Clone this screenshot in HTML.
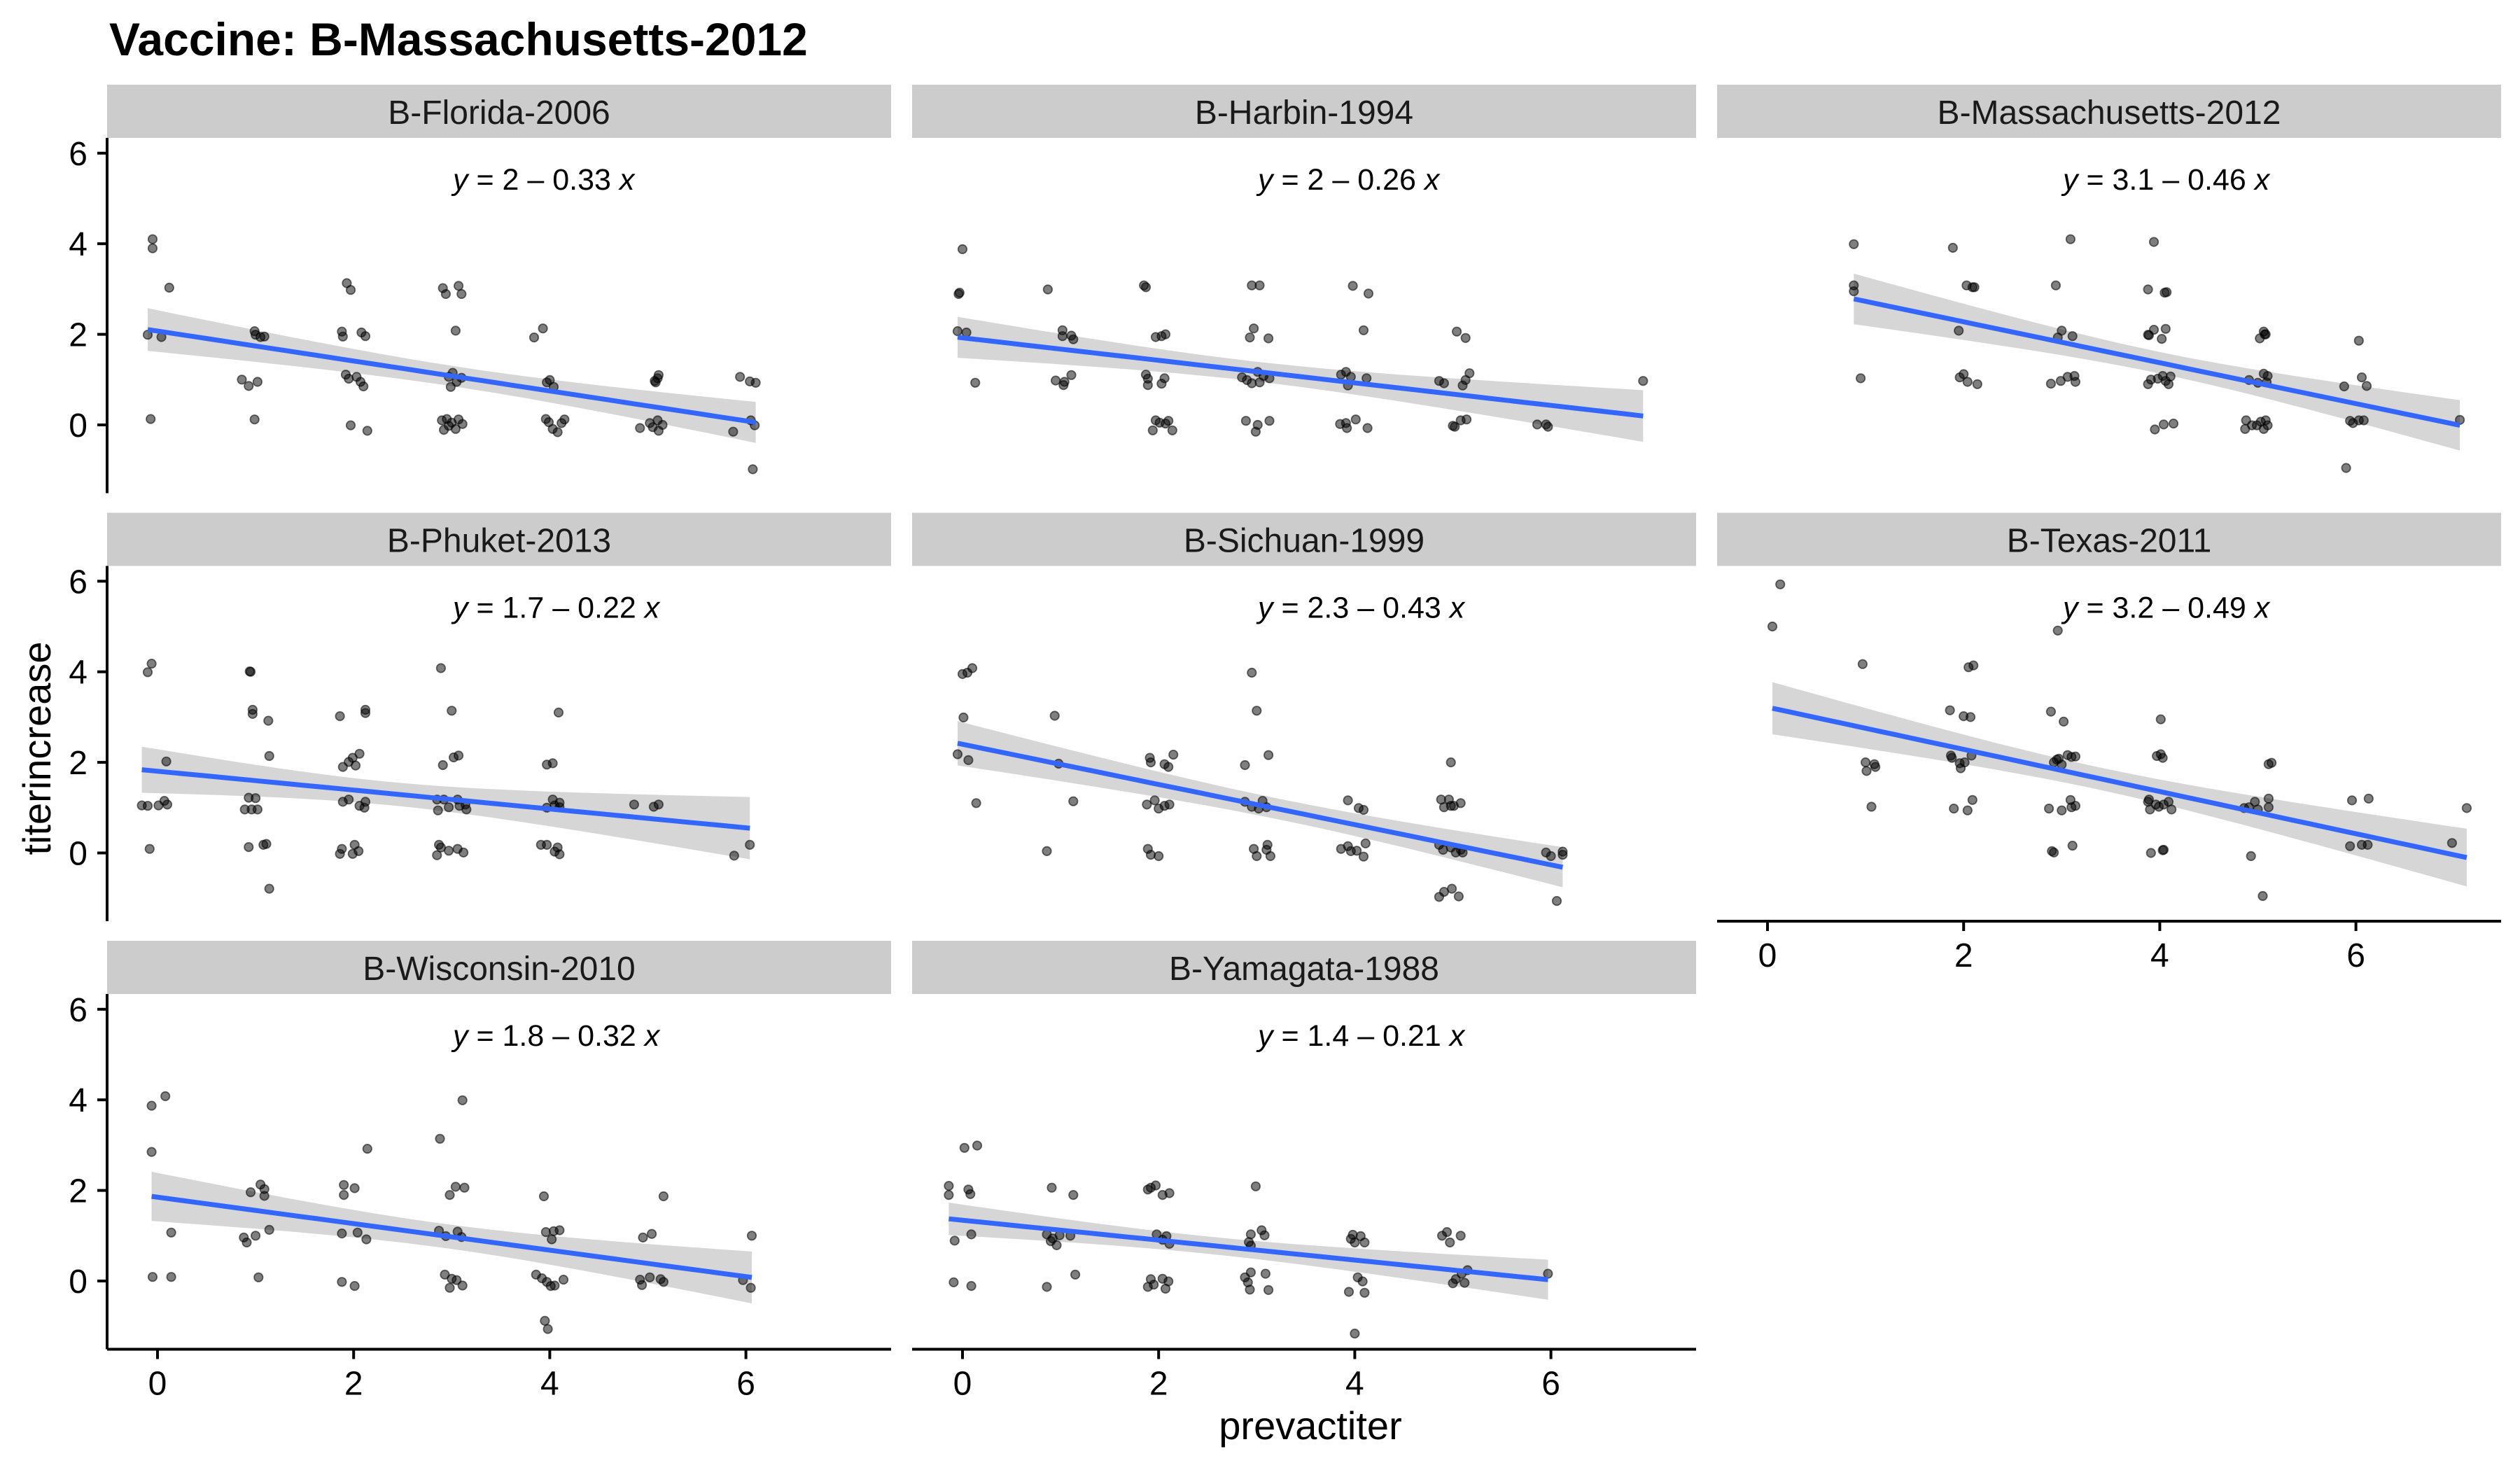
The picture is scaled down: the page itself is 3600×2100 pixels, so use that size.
<!DOCTYPE html>
<html><head><meta charset="utf-8"><style>
html,body{margin:0;padding:0;background:#fff}
svg{display:block}
text{font-family:"Liberation Sans",Arial,sans-serif}
</style></head><body>
<svg id="chart" xmlns="http://www.w3.org/2000/svg" width="3600" height="2100" viewBox="0 0 3600 2100">
<rect x="0" y="0" width="3600" height="2100" fill="#fff"/>
<text x="156" y="79" font-size="66" font-weight="bold" fill="#000">Vaccine: B-Massachusetts-2012</text>
<text transform="translate(72,1069) rotate(-90)" text-anchor="middle" font-size="56" fill="#000">titerincrease</text>
<text x="1872" y="2056" text-anchor="middle" font-size="56" fill="#000">prevactiter</text>
<g id="panels"></g>
</svg>
<script>
const panelNames = ["B-Florida-2006","B-Harbin-1994","B-Massachusetts-2012","B-Phuket-2013","B-Sichuan-1999","B-Texas-2011","B-Wisconsin-2010","B-Yamagata-1988"];
const equations = ["2 \u2013 0.33","2 \u2013 0.26","3.1 \u2013 0.46","1.7 \u2013 0.22","2.3 \u2013 0.43","3.2 \u2013 0.49","1.8 \u2013 0.32","1.4 \u2013 0.21"];
const xTicks = [0,2,4,6];
const yTicks = [0,2,4,6];
const floridaX = [-0.05,-0.05,0.12,-0.1,0.04,-0.07,0.99,1,1.09,1.05,0.86,0.93,1.02,0.99,1.93,1.97,1.88,1.89,2.08,2.12,1.92,1.95,2.03,2.07,2.1,1.97,2.14,2.91,2.94,3.07,3.1,3.04,3.01,2.97,2.99,3.05,3.1,2.9,2.95,2.97,2.92,3.0,3.04,3.07,3.11,3.84,3.93,3.97,4.0,4.04,3.96,3.99,4.03,4.08,4.12,4.15,5.07,5.1,5.11,5.08,4.92,5.02,5.05,5.11,5.1,5.15,5.94,6.04,6.1,5.87,6.05,6.09,6.07];
const floridaY = [4.1,3.9,3.03,1.99,1.94,0.13,2.07,1.99,1.95,1.94,1.0,0.86,0.95,0.12,3.13,2.98,2.06,1.95,2.04,1.96,1.11,1.02,1.06,0.95,0.85,-0.01,-0.13,3.02,2.89,3.07,2.89,2.08,1.15,1.06,0.84,0.95,1.04,0.1,0.13,-0.02,-0.11,0.05,-0.09,0.12,0.02,1.93,2.13,0.94,0.99,0.84,0.13,0.06,-0.09,-0.16,0.04,0.12,0.97,1.03,1.1,0.94,-0.07,0.04,-0.05,-0.13,0.1,0.0,1.06,0.96,0.93,-0.15,0.1,-0.01,-0.98];
const harbinX = [0,-0.04,-0.03,-0.05,0.04,0.13,0.87,1.02,1.02,1.11,1.13,0.95,1.03,1.04,1.11,1.85,1.87,1.97,2.03,2.07,1.87,1.89,1.89,2.03,2.06,1.97,2.01,1.94,2.07,2.14,2.1,2.95,3.03,2.97,2.93,3.12,2.85,2.95,3.03,3.07,3.13,3.01,2.9,2.89,3.01,3.13,2.99,3.98,4.14,4.09,3.86,3.91,3.96,3.93,4.12,3.85,3.91,3.92,4.01,4.13,5.04,5.13,4.86,4.91,5.1,5.13,5.17,5.0,5.02,5.08,5.14,5.86,5.95,5.97,6.94];
const harbinY = [3.88,2.89,2.92,2.07,2.04,0.93,2.99,2.09,1.96,1.97,1.89,0.98,0.88,0.95,1.1,3.08,3.04,1.94,1.96,2.0,1.11,1.02,0.88,0.91,1.03,0.1,0.05,-0.12,0.03,-0.12,0.09,3.08,3.08,2.13,1.93,1.91,1.05,0.92,0.94,1.08,1.03,1.17,0.99,0.09,0.0,0.09,-0.15,3.07,2.9,2.09,1.11,1.17,1.06,0.87,1.03,0.02,0.04,-0.07,0.12,-0.07,2.06,1.92,0.97,0.92,0.87,0.99,1.14,-0.02,-0.04,0.1,0.12,0.01,0.01,-0.04,0.97];
const massX = [0.88,0.88,0.88,0.95,1.89,2.03,2.09,2.11,1.95,1.96,2.0,2.04,2.14,3.09,2.94,3.0,2.96,3.11,2.89,2.99,3.06,3.13,3.14,3.94,3.88,4.05,4.07,3.88,3.89,3.94,4.02,4.06,3.88,3.91,3.98,4.06,4.09,4.11,4.03,3.95,4.04,4.14,5.06,5.07,5.02,5.08,4.91,5.0,5.06,5.09,5.1,4.87,4.88,4.94,4.99,5.06,5.08,5.1,5.03,6.03,6.06,6.11,5.88,5.94,5.97,6.03,6.08,5.9,7.06];
const massY = [3.99,3.08,2.95,1.03,3.91,3.08,3.04,3.04,2.08,1.05,1.12,0.95,0.9,4.1,3.08,2.08,1.93,1.96,0.91,0.97,1.06,1.08,0.95,4.04,2.99,2.92,2.93,1.99,1.98,2.1,1.9,2.12,0.9,1.0,1.02,0.97,0.9,1.07,1.08,-0.1,0.01,0.03,2.06,2.0,1.91,2.0,0.99,0.93,1.13,0.94,1.08,-0.09,0.1,-0.01,-0.01,-0.09,0.1,-0.01,0.07,1.86,1.05,0.86,0.85,0.09,0.04,0.1,0.1,-0.95,0.11];
const phuketX = [-0.1,-0.06,0.09,-0.16,-0.1,0.01,0.07,0.1,-0.08,0.94,0.95,0.97,0.97,1.13,1.14,0.93,1.0,0.89,0.96,1.02,0.93,1.08,1.11,1.14,1.86,2.12,2.12,1.89,1.95,1.99,2.06,2.02,1.89,1.95,2.06,2.11,2.12,1.86,1.88,2.01,1.99,2.05,2.89,3.0,2.91,3.02,3.07,2.85,2.92,2.86,2.97,3.06,3.08,3.14,3.15,2.87,2.89,2.85,2.97,3.06,3.12,4.09,3.97,4.03,3.97,4.03,4.05,4.1,4.1,3.91,3.97,4.08,4.05,4.1,4.86,5.06,5.11,5.88,6.04];
const phuketY = [3.99,4.18,2.02,1.05,1.04,1.05,1.15,1.07,0.09,4.01,4.0,3.16,3.07,2.92,2.14,1.22,1.21,0.96,0.96,0.96,0.13,0.18,0.2,-0.79,3.02,3.16,3.09,1.9,2.01,2.1,2.19,1.93,1.13,1.18,1.04,1.0,1.13,-0.02,0.09,0.18,-0.02,0.04,4.08,3.14,1.94,2.11,2.15,1.18,1.18,0.94,1.01,1.18,1.04,1.07,0.96,0.18,0.12,-0.05,0.05,0.09,0.01,3.1,1.95,1.98,1.0,1.18,1.05,1.11,1.01,0.18,0.18,0.12,0.03,-0.03,1.07,1.02,1.07,-0.06,0.18];
const sichuanX = [0,0.05,0.1,0.01,-0.05,0.06,0.14,0.94,0.98,1.13,0.86,1.91,1.92,2.06,2.1,2.15,1.88,1.96,2.0,2.06,2.11,1.89,1.92,2.0,2.95,3.0,2.88,3.12,2.88,2.95,3.02,3.06,3.1,2.97,3.0,3.11,3.1,3.14,3.93,4.04,4.09,3.86,3.93,3.96,4.02,4.09,4.11,4.98,4.88,4.96,4.91,4.98,5.01,5.08,4.86,4.9,4.98,5.03,5.08,5.1,4.86,4.91,4.99,5.06,5.95,6.0,6.12,6.12,6.06];
const sichuanY = [3.95,3.98,4.08,2.99,2.18,2.05,1.1,3.03,1.97,1.14,0.04,2.1,2.0,1.96,1.9,2.17,1.07,1.16,0.98,1.04,1.07,0.09,-0.04,-0.07,3.98,3.14,1.94,2.16,1.13,1.02,0.98,1.15,1.01,0.09,-0.07,0.18,0.07,-0.07,1.16,0.99,0.95,0.09,0.15,0.04,0.05,-0.08,0.21,2.0,1.18,1.18,1.01,1.04,1.04,1.1,0.18,0.07,0.12,0.01,0.07,0.01,-0.97,-0.86,-0.79,-0.96,0.01,-0.07,0.03,-0.04,-1.06];
const texasX = [0.13,0.05,0.97,1.0,1.01,1.1,1.09,1.06,1.86,2.0,2.07,2.05,2.1,1.87,1.88,1.96,1.97,2.01,2.08,1.9,2.04,2.09,2.96,2.89,3.02,2.92,2.97,3.0,3.06,3.1,3.14,2.95,2.87,3.0,3.09,3.1,3.14,2.9,2.92,3.11,4.01,3.97,4.01,4.03,3.88,3.9,3.96,3.99,4.04,4.09,4.12,3.89,3.91,4.03,4.04,5.11,5.14,4.86,4.91,4.97,5.0,5.11,5.11,4.93,5.05,5.96,6.13,5.94,6.06,6.12,6.98,7.13];
const texasY = [5.93,5.0,4.17,2.0,1.81,1.9,1.96,1.02,3.15,3.02,3.0,4.1,4.14,2.15,2.1,1.98,1.87,2.0,2.15,0.98,0.94,1.17,4.91,3.12,2.9,2.0,2.08,1.95,2.16,2.12,2.13,2.06,0.98,0.94,1.17,1.01,1.04,0.04,0.01,0.16,2.95,2.14,2.18,2.1,1.13,0.96,1.07,1.02,1.07,1.13,0.96,1.18,0.0,0.06,0.07,1.96,1.99,0.99,1.01,1.13,0.96,1.2,1.01,-0.07,-0.95,1.16,1.2,0.15,0.18,0.18,0.22,0.99];
const wisconsinX = [-0.06,0.08,-0.06,0.14,-0.05,0.14,0.95,1.05,1.09,1.09,0.88,0.91,1.0,1.14,1.03,1.9,2.01,1.9,2.14,1.88,2.04,2.13,1.88,2.01,2.88,3.11,3.04,3.13,2.98,2.87,2.94,3.06,3.1,2.93,2.98,3.05,3.11,3.0,3.94,3.96,4.04,4.1,4.02,3.86,3.97,4.05,4.14,3.92,4.01,3.95,3.98,5.16,4.95,5.04,4.92,4.94,5.02,5.13,5.16,6.06,5.97,6.05];
const wisconsinY = [3.87,4.08,2.85,1.07,0.09,0.09,1.96,2.13,2.03,1.88,0.96,0.85,1.0,1.13,0.08,2.12,2.05,1.9,2.92,1.05,1.07,0.92,-0.02,-0.11,3.14,3.99,2.08,2.06,1.9,1.11,0.99,1.09,0.97,0.14,-0.15,0.02,-0.1,0.05,1.87,1.08,1.1,1.12,0.92,0.14,-0.02,-0.1,0.03,0.06,-0.11,-0.88,-1.06,1.87,0.96,1.04,0.03,-0.09,0.08,0.04,-0.02,1.0,0.02,-0.15];
const yamagataX = [-0.14,-0.14,0.06,0.08,0.02,0.15,-0.08,0.09,-0.09,0.09,0.91,1.13,0.86,0.92,0.96,0.99,0.9,1.1,1.15,0.86,1.92,1.97,2.04,2.11,1.89,1.98,2.04,2.11,2.08,1.89,1.95,2.04,2.1,2.07,1.92,2.99,2.94,3.05,3.08,2.92,2.94,2.88,2.94,3.09,2.91,2.93,3.12,3.96,3.98,4.06,4.1,4.0,4.03,4.08,3.94,4.1,4.0,4.89,4.97,4.94,5.08,5.03,5.09,5.15,5.12,5.0,5.97];
const yamagataY = [2.1,1.9,2.02,1.92,2.94,2.99,0.89,1.03,-0.03,-0.11,2.06,1.9,1.03,0.94,0.79,1.01,0.88,1.0,0.14,-0.13,2.06,2.11,1.9,1.94,2.02,1.03,0.91,0.82,0.99,-0.13,-0.08,0.05,-0.01,-0.17,0.04,2.09,1.03,1.12,1.01,0.86,0.78,0.08,0.19,0.16,-0.03,-0.19,-0.2,0.93,1.02,0.99,0.85,0.85,0.08,-0.01,-0.24,-0.26,-1.16,1.0,0.85,1.08,1.0,0.04,0.16,0.24,-0.04,-0.05,0.16];
const seriesX = [floridaX,harbinX,massX,phuketX,sichuanX,texasX,wisconsinX,yamagataX];
const seriesY = [floridaY,harbinY,massY,phuketY,sichuanY,texasY,wisconsinY,yamagataY];

const NS = "http://www.w3.org/2000/svg";
const root = document.getElementById("panels");
const COL_LEFT = [153, 1303, 2453], PANEL_W = 1120;
const STRIP_TOP = [121, 732.5, 1344], STRIP_H = 76, PLOT_H = 507.5;
const X_OFF = 72, X_UNIT = 140.1, Y_OFF = 410, Y_UNIT = 64.7;
function mk(tag, attrs, parent) {
  const e = document.createElementNS(NS, tag);
  for (const k in attrs) e.setAttribute(k, attrs[k]);
  parent.appendChild(e);
  return e;
}
const showXAxis = [false,false,false,false,false,true,true,true];
const slug = s => s.toLowerCase();

panelNames.forEach((name, i) => {
  const col = i % 3, row = Math.floor(i / 3);
  const left = COL_LEFT[col], stripTop = STRIP_TOP[row];
  const top = stripTop + STRIP_H, bottom = top + PLOT_H;
  const sx = v => left + X_OFF + v * X_UNIT;
  const sy = v => top + Y_OFF - v * Y_UNIT;
  const g = mk("g", {}, root);
  
  

  const strip = mk("rect", {x: left, y: stripTop, width: PANEL_W, height: STRIP_H, fill: "#cccccc"}, g);
  
  
  const st = mk("text", {x: left + PANEL_W / 2, y: stripTop + 56, "text-anchor": "middle", "font-size": 48, fill: "#1a1a1a"}, g);
  st.textContent = name;
  
  

  const xs = seriesX[i], ys = seriesY[i], n = xs.length;
  const mx = xs.reduce((a, b) => a + b, 0) / n, my = ys.reduce((a, b) => a + b, 0) / n;
  let sxx = 0, sxy = 0;
  for (let k = 0; k < n; k++) { sxx += (xs[k] - mx) ** 2; sxy += (xs[k] - mx) * (ys[k] - my); }
  const b = sxy / sxx, a = my - b * mx;
  let sse = 0;
  for (let k = 0; k < n; k++) sse += (ys[k] - a - b * xs[k]) ** 2;
  const s = Math.sqrt(sse / (n - 2));
  const xmin = Math.min(...xs), xmax = Math.max(...xs);
  const hi = [], lo = [], ln = [];
  for (let t = 0; t <= 40; t++) {
    const xv = xmin + (xmax - xmin) * t / 40;
    const se = 1.99 * s * Math.sqrt(1 / n + (xv - mx) ** 2 / sxx);
    const yv = a + b * xv;
    hi.push(sx(xv).toFixed(1) + "," + sy(yv + se).toFixed(1));
    lo.unshift(sx(xv).toFixed(1) + "," + sy(yv - se).toFixed(1));
    ln.push(sx(xv).toFixed(1) + "," + sy(yv).toFixed(1));
  }
  const band = mk("polygon", {points: hi.concat(lo).join(" "), fill: "#999999", "fill-opacity": 0.4}, g);
  
  

  for (let k = 0; k < n; k++) {
    const c = mk("circle", {cx: sx(xs[k]).toFixed(1), cy: sy(ys[k]).toFixed(1), r: 6.2, fill: "#000", "fill-opacity": 0.5, stroke: "#000", "stroke-opacity": 0.55, "stroke-width": 1.8}, g);
    
    
  }
  const line = mk("polyline", {points: ln.join(" "), fill: "none", stroke: "#3366FF", "stroke-width": 7}, g);
  
  

  const eq = mk("text", {x: left + 494, y: top + 74, "font-size": 43, fill: "#000"}, g);
  
  
  const ty = mk("tspan", {"font-style": "italic"}, eq); ty.textContent = "y";
  const tm = mk("tspan", {}, eq); tm.textContent = " = " + equations[i] + " ";
  const tx = mk("tspan", {"font-style": "italic"}, eq); tx.textContent = "x";

  if (col === 0) {
    const ya = mk("line", {x1: left, y1: top, x2: left, y2: bottom, stroke: "#000", "stroke-width": 4}, g);
    
    
    yTicks.forEach(v => {
      const tk = mk("line", {x1: left - 14, y1: sy(v), x2: left, y2: sy(v), stroke: "#000", "stroke-width": 4}, g);
      
      
      const tl = mk("text", {x: left - 28, y: sy(v) + 17, "text-anchor": "end", "font-size": 48, fill: "#000"}, g);
      tl.textContent = v;
      
      
    });
  }
  if (showXAxis[i]) {
    const xa = mk("line", {x1: left, y1: bottom, x2: left + PANEL_W, y2: bottom, stroke: "#000", "stroke-width": 4}, g);
    
    
    xTicks.forEach(v => {
      const tk = mk("line", {x1: sx(v), y1: bottom, x2: sx(v), y2: bottom + 14, stroke: "#000", "stroke-width": 4}, g);
      
      
      const tl = mk("text", {x: sx(v), y: bottom + 65, "text-anchor": "middle", "font-size": 48, fill: "#000"}, g);
      tl.textContent = v;
      
      
    });
  }
});
</script>
</body></html>
